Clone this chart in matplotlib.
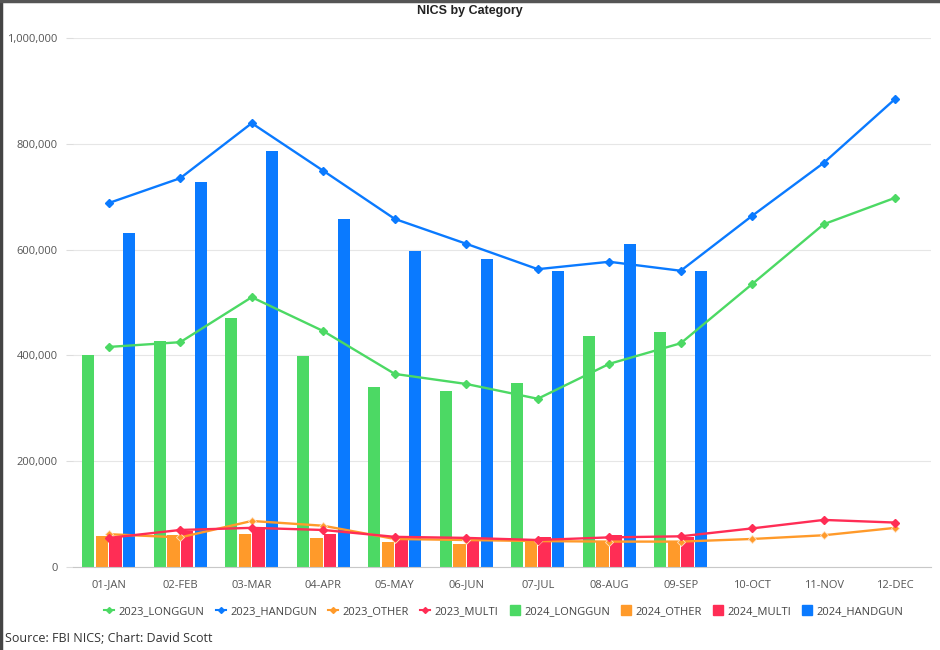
import matplotlib.pyplot as plt
import numpy as np
from matplotlib.ticker import FuncFormatter
from matplotlib.lines import Line2D
from matplotlib.patches import Patch

months = ["01-JAN", "02-FEB", "03-MAR", "04-APR", "05-MAY", "06-JUN",
          "07-JUL", "08-AUG", "09-SEP", "10-OCT", "11-NOV", "12-DEC"]

# 2023 lines (all 12 months)
longgun_2023 = [416000, 425000, 510000, 446000, 365000, 346000,
                318000, 384000, 423000, 535000, 648000, 698000]
handgun_2023 = [688000, 735000, 839000, 749000, 658000, 611000,
                563000, 577000, 560000, 664000, 764000, 885000]
other_2023 = [62000, 56000, 87000, 78000, 53000, 51000,
              49000, 48000, 48000, 53000, 60000, 74000]
multi_2023 = [55000, 70000, 74000, 70000, 57000, 55000,
              51000, 56000, 58000, 73000, 89000, 84000]

# 2024 bars (Jan-Sep)
longgun_2024 = [401000, 427000, 471000, 399000, 340000, 333000, 348000, 437000, 444000]
other_2024 = [59000, 60000, 62000, 55000, 48000, 44000, 48000, 50000, 49000]
multi_2024 = [57000, 68000, 76000, 62000, 55000, 55000, 57000, 60000, 57000]
handgun_2024 = [631000, 728000, 786000, 658000, 597000, 582000, 560000, 611000, 560000]

GREEN = "#4CD964"
BLUE = "#0A7AFF"
ORANGE = "#FF9A2A"
RED = "#FF2D55"

plt.rcParams['font.family'] = ['Open Sans', 'DejaVu Sans']

fig = plt.figure(figsize=(9.4, 6.5), dpi=100)
ax = fig.add_axes([73 / 940, 1 - 567 / 650, (931 - 73) / 940, (567 - 38) / 650])

x = np.arange(len(months))
xb = np.arange(len(longgun_2024))
step = 0.19
w = 0.17
ax.bar(xb - 1.5 * step, longgun_2024, w, color=GREEN, zorder=2)
ax.bar(xb - 0.5 * step, other_2024, w, color=ORANGE, zorder=2)
ax.bar(xb + 0.5 * step, multi_2024, w, color=RED, zorder=2)
ax.bar(xb + 1.5 * step, handgun_2024, w, color=BLUE, zorder=2)

lkw = dict(marker="D", markersize=4.5, linewidth=1.7, zorder=3)
ax.plot(x, longgun_2023, color=GREEN, **lkw)
ax.plot(x, handgun_2023, color=BLUE, **lkw)
ax.plot(x, other_2023, color=ORANGE, markeredgecolor="#FFE0C0", markeredgewidth=0.6, **lkw)
ax.plot(x, multi_2023, color=RED, **lkw)

ax.set_xlim(-0.5, len(months) - 0.5)
ax.set_ylim(0, 1000000)
ax.set_yticks(np.arange(0, 1000001, 200000))
ax.yaxis.set_major_formatter(FuncFormatter(lambda v, p: f"{int(v):,}"))
ax.set_xticks(x)
ax.set_xticklabels(months)
ax.grid(axis="y", color="#E6E6E6", linewidth=0.8, zorder=0)
ax.set_axisbelow(True)
for s in ["top", "right", "left"]:
    ax.spines[s].set_visible(False)
ax.spines["bottom"].set_color("#C8C8C8")
ax.tick_params(axis="x", length=0, pad=9, labelsize=8, labelcolor="#555555")
ax.tick_params(axis="y", length=5, width=0.8, color="#DDDDDD", pad=6,
               labelsize=8, labelcolor="#555555")

fig.text(0.5, 1 - 11 / 650, "NICS by Category", ha="center", va="center",
         fontsize=9, fontweight="bold", family="Liberation Sans", color="#222222")

handles = [
    Line2D([], [], color=GREEN, marker="D", markersize=3, linewidth=1.5),
    Line2D([], [], color=BLUE, marker="D", markersize=3, linewidth=1.5),
    Line2D([], [], color=ORANGE, marker="D", markersize=3, linewidth=1.5),
    Line2D([], [], color=RED, marker="D", markersize=3, linewidth=1.5),
    Patch(color=GREEN), Patch(color=ORANGE), Patch(color=RED), Patch(color=BLUE),
]
labels = ["2023_LONGGUN", "2023_HANDGUN", "2023_OTHER", "2023_MULTI",
          "2024_LONGGUN", "2024_OTHER", "2024_MULTI", "2024_HANDGUN"]
fig.legend(handles, labels, loc="center", bbox_to_anchor=(504 / 940, 1 - 611 / 650),
           ncol=8, frameon=False, fontsize=8, handlelength=0.9, handletextpad=0.4,
           columnspacing=1.0, handleheight=0.9, labelcolor="#444444")

fig.text(5 / 940, 1 - 638 / 650, "Source: FBI NICS; Chart: David Scott",
         ha="left", va="center", fontsize=9, color="#333333")

# screenshot frame on left and top
fig.add_artist(Line2D([0.001, 0.001], [0, 1], color="#444444", linewidth=2.5,
                      transform=fig.transFigure))
fig.add_artist(Line2D([0, 1], [0.999, 0.999], color="#555555", linewidth=2.5,
                      transform=fig.transFigure))

fig.savefig("out.png", dpi=100, facecolor="white")
